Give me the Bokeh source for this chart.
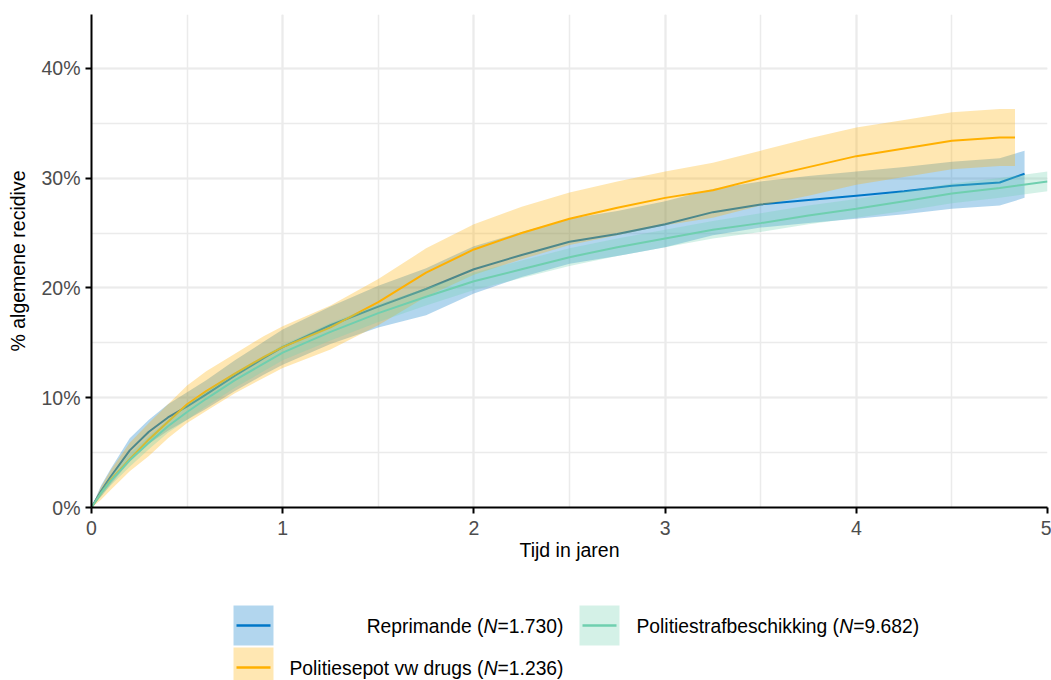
from bokeh.plotting import figure
from bokeh.models import Range1d, SingleIntervalTicker, PrintfTickFormatter, ColumnDataSource
from bokeh.layouts import column
from bokeh.core.properties import value
from bokeh.embed import file_html
from bokeh.resources import INLINE

FONT = "Liberation Sans"

# ---------------- data (percent) ----------------
T = [0, 0.05, 0.1, 0.2, 0.3, 0.4, 0.5, 0.6, 0.75, 0.9, 1.0, 1.25, 1.5, 1.75, 2.0,
     2.25, 2.5, 2.75, 3.0, 3.25, 3.5, 3.75, 4.0, 4.25, 4.5, 4.75]

t_rep = T + [4.88]
rep = [0, 1.5, 2.8, 5.2, 6.9, 8.2, 9.2, 10.3, 12.0, 13.6, 14.6, 16.6, 18.3, 19.9, 21.7,
       23.0, 24.2, 24.9, 25.8, 26.9, 27.6, 28.0, 28.4, 28.8, 29.3, 29.6, 30.4]
rep_lo = [0, 1.0, 2.1, 4.2, 5.8, 7.0, 8.0, 9.0, 10.6, 12.1, 13.0, 14.9, 16.4, 17.5, 19.5,
          21.0, 22.2, 22.9, 23.7, 24.8, 25.5, 25.9, 26.3, 26.7, 27.2, 27.5, 28.2]
rep_hi = [0, 2.0, 3.5, 6.3, 8.0, 9.4, 10.5, 11.6, 13.4, 15.1, 16.2, 18.3, 20.2, 21.8, 23.8,
          25.1, 26.3, 27.0, 27.9, 29.0, 29.7, 30.2, 30.6, 31.0, 31.5, 31.8, 32.5]

t_pol = T + [4.83]
pol = [0, 1.3, 2.5, 4.4, 6.2, 7.8, 9.4, 10.6, 12.2, 13.7, 14.6, 16.4, 18.7, 21.4, 23.5,
       25.0, 26.3, 27.3, 28.2, 28.9, 30.0, 31.0, 32.0, 32.7, 33.4, 33.7, 33.7]
pol_lo = [0, 0.7, 1.6, 3.3, 4.7, 6.3, 7.7, 8.8, 10.4, 11.8, 12.7, 14.4, 16.6, 19.2, 21.2,
          22.6, 23.9, 24.8, 25.7, 26.4, 27.5, 28.4, 29.4, 30.1, 30.8, 31.1, 31.1]
pol_hi = [0, 1.9, 3.4, 5.9, 7.7, 9.4, 11.1, 12.4, 14.0, 15.6, 16.5, 18.4, 20.8, 23.6, 25.8,
          27.4, 28.7, 29.7, 30.6, 31.4, 32.5, 33.6, 34.6, 35.3, 36.0, 36.3, 36.3]

t_str = T + [5.0]
stra = [0, 1.3, 2.4, 4.3, 5.9, 7.4, 8.7, 9.9, 11.6, 13.1, 14.1, 16.0, 17.7, 19.2, 20.6,
        21.7, 22.8, 23.7, 24.5, 25.3, 25.9, 26.6, 27.2, 27.9, 28.6, 29.1, 29.7]
stra_lo = [0, 1.0, 2.0, 3.7, 5.3, 6.8, 8.0, 9.2, 10.9, 12.4, 13.4, 15.2, 16.9, 18.4, 19.8,
           20.9, 22.0, 22.9, 23.7, 24.5, 25.1, 25.8, 26.4, 27.0, 27.7, 28.2, 28.8]
stra_hi = [0, 1.6, 2.8, 4.9, 6.5, 8.0, 9.4, 10.6, 12.3, 13.8, 14.8, 16.8, 18.5, 20.0, 21.4,
           22.5, 23.6, 24.5, 25.3, 26.1, 26.8, 27.5, 28.1, 28.8, 29.5, 30.0, 30.6]

series_names = ["Reprimande", "Politiesepot vw drugs", "Politiestrafbeschikking"]
series_n = ["1.730", "1.236", "9.682"]
colors = ["#0077C8", "#FFB000", "#6FCFAF"]

x_ticks_interval = 1
y_ticks_interval = 10

FS = 19.5
FSS = "19.5px"

# ---------------- main plot ----------------
p = figure(width=1051, height=570, frame_width=956, frame_height=493,
           x_range=Range1d(0, 5), y_range=Range1d(0, 44.9),
           output_backend="svg", toolbar_location=None,
           min_border_left=91, min_border_right=4, min_border_top=14, min_border_bottom=63)
p.outline_line_color = None
p.background_fill_color = "white"

groups = [(t_rep, rep, rep_lo, rep_hi), (t_pol, pol, pol_lo, pol_hi), (t_str, stra, stra_lo, stra_hi)]
for (t, y, lo, hi), c in zip(groups, colors):
    src = ColumnDataSource(dict(t=t, y=y, lo=lo, hi=hi))
    p.varea(x="t", y1="lo", y2="hi", source=src, fill_color=c, fill_alpha=0.3)
    p.line(x="t", y="y", source=src, line_color=c, line_width=2)

p.xaxis.ticker = SingleIntervalTicker(interval=x_ticks_interval, num_minor_ticks=2)
p.yaxis.ticker = SingleIntervalTicker(interval=y_ticks_interval, num_minor_ticks=2)
p.yaxis.formatter = PrintfTickFormatter(format="%d%%")

for g in (p.xgrid, p.ygrid):
    g.grid_line_color = "#EBEBEB"
    g.grid_line_width = 2
    g.minor_grid_line_color = "#EBEBEB"
    g.minor_grid_line_width = 1.5

for ax in (p.xaxis, p.yaxis):
    ax.axis_line_color = "black"
    ax.axis_line_width = 2
    ax.major_tick_line_color = "black"
    ax.major_tick_line_width = 2
    ax.major_tick_out = 6
    ax.major_tick_in = 0
    ax.minor_tick_out = 0
    ax.minor_tick_in = 0
    ax.major_label_text_font = FONT
    ax.major_label_text_font_size = FSS
    ax.major_label_text_color = "#4D4D4D"
    ax.axis_label_text_font = FONT
    ax.axis_label_text_font_size = FSS
    ax.axis_label_text_font_style = "normal"
    ax.axis_label_text_color = "black"

p.xaxis.axis_label = "Tijd in jaren"
p.yaxis.axis_label = "% algemene recidive"
p.xaxis.major_label_standoff = 7
p.xaxis.axis_label_standoff = 1
p.yaxis.major_label_standoff = 5
p.yaxis.axis_label_standoff = 9

# ---------------- legend (separate figure, page-pixel coordinates) ----------------
lf = figure(width=1051, height=110, frame_width=956, frame_height=110,
            x_range=Range1d(91, 1047), y_range=Range1d(680, 570),
            output_backend="svg", toolbar_location=None,
            min_border_left=91, min_border_right=4, min_border_top=0, min_border_bottom=0,
            x_axis_type=None, y_axis_type=None)
lf.outline_line_color = None
lf.xgrid.visible = False
lf.ygrid.visible = False

W = {'R': 722, 'e': 556, 'p': 556, 'r': 333, 'i': 222, 'm': 833, 'a': 556, 'n': 556,
     'd': 556, ' ': 278, '(': 333, ')': 333, 'P': 667, 'o': 556, 'l': 222, 't': 278,
     's': 500, 'v': 500, 'w': 722, 'u': 556, 'g': 556, 'f': 278, 'b': 556, 'c': 500,
     'h': 556, 'k': 500, '=': 584, '.': 278, 'N': 722}
for dch in "0123456789":
    W[dch] = 556
LFS = 19.3


def tw(s):
    return sum(W.get(ch, 556) for ch in s) / 1000.0 * LFS


# key boxes: (left, top, text_x, align_right)
key_pos = [(233, 605, 563, True), (233, 647, 289, False), (579, 605, 636, False)]
for (kl, kt, tx, right), c, name, n in zip(key_pos, colors, series_names, series_n):
    lf.quad(left=[kl], right=[kl + 40], top=[kt], bottom=[kt + 40],
            fill_color=c, fill_alpha=0.3, line_color=None)
    lf.segment(x0=[kl + 3], x1=[kl + 37], y0=[kt + 20], y1=[kt + 20], line_color=c, line_width=2.5)
    s1 = name + " ("
    s3 = "=" + n + ")"
    total = tw(s1) + tw("N") + tw(s3)
    x0 = tx - total if right else tx
    ty = kt + 20.5
    common = dict(text_font=value(FONT), text_font_size="%.1fpx" % LFS, text_baseline="middle",
                  text_align="left", text_color="black")
    lf.text(x=[x0], y=[ty], text=[s1], **common)
    lf.text(x=[x0 + tw(s1)], y=[ty], text=["N"], text_font_style="italic", **common)
    lf.text(x=[x0 + tw(s1) + tw("N")], y=[ty], text=[s3], **common)

layout = column(p, lf)
open("out.html", "w").write(file_html(layout, INLINE))
